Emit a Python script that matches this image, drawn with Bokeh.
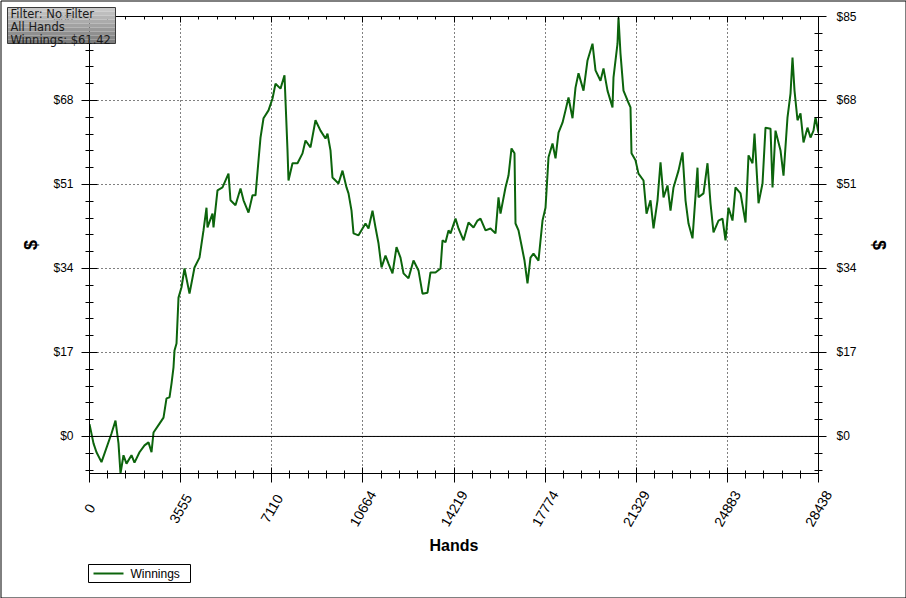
from bokeh.plotting import figure
from bokeh.models import (LinearAxis, FixedTicker, Range1d, Span)
from bokeh.core.properties import value
from bokeh.embed import file_html
from bokeh.resources import INLINE
import numpy as np

# ---- data ----
hands = [0, 156, 273, 468, 858, 1014, 1131, 1209, 1326, 1443, 1638, 1755, 1950, 2146,
         2302, 2419, 2497, 2731, 2887, 3004, 3121, 3199, 3277, 3316, 3394, 3472, 3589,
         3706, 3901, 4096, 4291, 4447, 4564, 4603, 4798, 4837, 4993, 5188, 5422, 5500,
         5695, 5891, 6008, 6203, 6359, 6476, 6593, 6671, 6788, 6983, 7139, 7256, 7451,
         7607, 7646, 7724, 7763, 7919, 8114, 8309, 8426, 8621, 8816, 9011, 9206, 9284,
         9401, 9479, 9713, 9870, 10026, 10104, 10221, 10299, 10494, 10767, 10884, 11040,
         11157, 11274, 11391, 11547, 11664, 11820, 11976, 12132, 12249, 12444, 12639,
         12834, 12990, 13185, 13302, 13497, 13693, 13771, 13888, 14005, 14083, 14278,
         14395, 14590, 14785, 14980, 15136, 15253, 15448, 15643, 15838, 15955, 16033,
         16228, 16345, 16462, 16579, 16618, 16735, 16852, 16969, 17086, 17203, 17320,
         17515, 17672, 17789, 17906, 18062, 18179, 18296, 18452, 18569, 18686, 18842,
         18959, 19076, 19271, 19427, 19622, 19739, 19934, 20051, 20207, 20402, 20441,
         20597, 20636, 20714, 20831, 20987, 21104, 21143, 21299, 21416, 21612, 21729,
         21885, 22002, 22158, 22275, 22392, 22548, 22665, 22782, 22977, 23133, 23250,
         23367, 23523, 23718, 23757, 23952, 24108, 24225, 24342, 24537, 24693, 24810,
         24927, 25083, 25200, 25396, 25591, 25708, 25864, 25942, 26098, 26254, 26371,
         26566, 26644, 26761, 26956, 27073, 27229, 27346, 27424, 27502, 27619, 27736,
         27853, 28009, 28126, 28243, 28321, 28438]
winnings = [2.5, -1.4, -3.2, -5.2, 0.6, 3.2, -1.4, -7.5, -3.8, -5.5, -3.8, -5.3, -3.2, -1.8,
            -1.2, -3.2, 0.8, 2.6, 3.8, 7.7, 7.9, 10.7, 14.0, 17.4, 18.8, 28.1, 30.2,
            34.0, 28.9, 34.2, 36.2, 41.7, 46.3, 42.3, 45.1, 42.3, 49.8, 50.4, 53.2, 47.8,
            46.8, 50.2, 47.8, 45.3, 48.8, 48.8, 55.9, 60.5, 64.4, 66.0, 68.4, 71.4, 70.4,
            73.1, 68.0, 57.9, 51.8, 55.3, 55.3, 57.3, 59.9, 58.5, 64.0, 61.9, 60.3, 61.3,
            57.9, 52.4, 51.2, 53.8, 50.4, 49.2, 45.7, 41.1, 40.7, 43.1, 42.1, 45.7,
            42.3, 39.1, 34.2, 36.6, 35.0, 33.0, 38.3, 36.2, 33.0, 32.0, 35.6,
            33.6, 28.9, 29.1, 33.2, 33.2, 34.0, 39.7, 39.3, 41.7, 41.1, 44.1,
            42.1, 39.7, 43.3, 42.3, 43.7, 44.1, 41.7, 42.1, 41.1, 48.4, 45.1,
            50.4, 52.8, 58.3, 57.3, 43.1, 41.7, 38.7, 35.6, 31.0, 36.2, 37.0,
            35.6, 43.7, 46.3, 56.5, 59.3, 56.3, 61.5, 63.5, 66.0, 68.6, 64.4,
            70.6, 73.5, 70.0, 76.1, 79.5, 74.1, 72.0, 74.5, 70.0, 66.6, 72.7,
            79.5, 84.8, 77.5, 70.0, 68.0, 66.6, 57.3, 55.9, 53.2, 51.8, 45.1,
            47.8, 42.1, 47.8, 55.5, 48.4, 50.8, 45.7, 50.4, 53.8, 57.5, 47.8,
            43.1, 40.1, 54.4, 48.4, 49.2, 55.3, 47.2, 41.3, 43.7, 44.1, 39.7,
            46.3, 43.7, 50.4, 49.2, 43.3, 56.9, 55.3, 61.3, 47.2, 51.2, 62.5,
            62.3, 50.4, 61.9, 57.9, 52.8, 64.6, 69.4, 76.7, 70.0, 64.0, 65.4,
            59.5, 62.5, 60.5, 61.9, 64.6, 61.42]

x_ticks = [0, 3555, 7110, 10664, 14219, 17774, 21329, 24883, 28438]
x_tick_labels = ["0", "3555", "7110", "10664", "14219", "17774", "21329", "24883", "28438"]
y_ticks = [0, 17, 34, 51, 68, 85]
y_tick_labels = ["$0", "$17", "$34", "$51", "$68", "$85"]
info_lines = ["Filter: No Filter", "All Hands", "Winnings: $61.42"]
series_name = "Winnings"
x_title = "Hands"
y_title = "$"

# ---- figure ----
W, H = 906, 598
FL, FR, FT, FB = 89, 818, 16, 473   # frame edges in canvas pixels

p = figure(width=W, height=H, output_backend="svg", toolbar_location=None,
           x_range=Range1d(0, 28438), y_range=Range1d(-7.5, 85),
           min_border_left=FL, min_border_right=W - FR, min_border_top=FT,
           min_border_bottom=H - FB, outline_line_color="black")
p.background_fill_color = "white"
p.border_fill_color = "white"
# pixel-space ranges for decorations drawn outside the frame (value = -pixel row)
p.extra_x_ranges = {"px": Range1d(FL, FR)}
p.extra_y_ranges = {"py": Range1d(-FB, -FT)}

x_minor = []
for a, b in zip(x_ticks[:-1], x_ticks[1:]):
    x_minor += list(np.linspace(a, b, 6)[1:-1])
y_minor = list(np.arange(-6.8, 85.01, 3.4))

xt = FixedTicker(ticks=x_ticks, minor_ticks=x_minor)
yt = FixedTicker(ticks=y_ticks, minor_ticks=y_minor)

font = "Liberation Sans"

def style_axis(ax):
    ax.axis_line_color = "black"
    ax.major_tick_line_color = "black"
    ax.minor_tick_line_color = "black"
    ax.major_label_text_font = font
    ax.major_label_text_font_size = "12px"
    ax.major_label_text_color = "black"
    ax.axis_label_text_font = font
    ax.axis_label_text_font_style = "bold"
    ax.axis_label_text_color = "black"

# bottom axis (its own labels are hidden; centred rotated labels drawn below)
xa = p.xaxis[0]
xa.ticker = xt
style_axis(xa)
xa.axis_label = x_title
xa.axis_label_text_font_size = "16px"
xa.major_label_text_font_size = "13px"
xa.major_label_text_color = None
xa.major_label_orientation = np.pi / 3
xa.major_tick_in = 6
xa.major_tick_out = 9
xa.minor_tick_in = 3
xa.minor_tick_out = 5
xa.major_label_standoff = 4
xa.axis_label_standoff = 54

# left axis
ya = p.yaxis[0]
ya.ticker = yt
style_axis(ya)
ya.axis_label = y_title
ya.axis_label_text_font_size = "18px"
ya.major_label_overrides = {t: l for t, l in zip(y_ticks, y_tick_labels)}
ya.major_tick_in = 8
ya.major_tick_out = 8
ya.minor_tick_in = 4
ya.minor_tick_out = 4
ya.major_label_standoff = 8
ya.axis_label_standoff = 9

# right axis
ra = LinearAxis(ticker=yt, axis_label=y_title)
style_axis(ra)
ra.axis_label_text_font_size = "18px"
ra.major_label_overrides = {t: l for t, l in zip(y_ticks, y_tick_labels)}
ra.major_tick_in = 8
ra.major_tick_out = 8
ra.minor_tick_in = 4
ra.minor_tick_out = 4
ra.major_label_standoff = 10
ra.axis_label_standoff = 9
p.add_layout(ra, "right")

# top axis (ticks only, labels hidden)
ta = LinearAxis(ticker=xt)
style_axis(ta)
ta.major_label_text_color = None
ta.major_label_text_font_size = "6px"
ta.major_label_standoff = 0
ta.major_tick_in = 6
ta.major_tick_out = 0
ta.minor_tick_in = 3
ta.minor_tick_out = 0
p.add_layout(ta, "above")

# grids
for g, t in ((p.xgrid[0], xt), (p.ygrid[0], yt)):
    g.ticker = t
    g.grid_line_color = "black"
    g.grid_line_dash = "1 3"
    g.grid_line_width = 1

p.add_layout(Span(location=0, dimension="width", line_color="black", line_width=1))

line_color = "#0c640c"
p.line(hands, winnings, line_color=line_color, line_width=2)

def P(v):
    """canvas pixel row -> value in the 'py' range"""
    return -v

OV = dict(x_range_name="px", y_range_name="py", level="overlay")

# x tick labels: rotated 60 degrees, centred below each tick
p.text(x=x_ticks, y=[P(508)] * len(x_ticks), text=x_tick_labels,
       angle=np.pi / 3, text_align="center", text_baseline="middle",
       text_font=value(font), text_font_size="14px", text_color="black",
       y_range_name="py", level="overlay")

# legend box below the plot (canvas-pixel placement)
lx0, lx1, ly0, ly1 = 88, 190, 564, 582
p.quad(left=[lx0], right=[lx1], top=[P(ly0)], bottom=[P(ly1)], fill_color="white",
       line_color="black", line_width=1, **OV)
p.line(x=[lx0 + 5, lx0 + 35], y=[P((ly0 + ly1) / 2)] * 2, line_color=line_color,
       line_width=2, **OV)
p.text(x=[lx0 + 42], y=[P((ly0 + ly1) / 2)], text=[series_name],
       text_font=value(font), text_font_size="12px", text_color="black",
       text_baseline="middle", text_align="left", **OV)

# info box (top-left)
bx0, bx1, by0, by1 = 7, 115, 7, 43
nb = 9
edges = np.linspace(by0, by1, nb + 1)
shades = ["#%02x%02x%02x" % (v, v, v) for v in np.linspace(200, 125, nb).astype(int)]
p.quad(left=[bx0] * nb, right=[bx1] * nb, top=[P(e) for e in edges[:-1]],
       bottom=[P(e) for e in edges[1:]], fill_color=shades, line_color=None, **OV)
p.quad(left=[bx0], right=[bx1], top=[P(by0)], bottom=[P(by1)], fill_color=None,
       line_color="#3a3a3a", line_width=1, **OV)
p.text(x=[bx0 + 3] * 3, y=[P(by0 + 6), P(by0 + 19), P(by0 + 32)], text=info_lines,
       text_font=value("DejaVu Sans"), text_font_size="11.5px", text_color="#1a1a1a",
       text_baseline="middle", text_align="left", **OV)

# outer border of the whole picture
p.quad(left=[0.5], right=[W - 0.5], top=[P(0.5)], bottom=[P(H - 0.5)], fill_color=None,
       line_color="black", line_width=1, **OV)

open("out.html", "w").write(file_html(p, INLINE))
